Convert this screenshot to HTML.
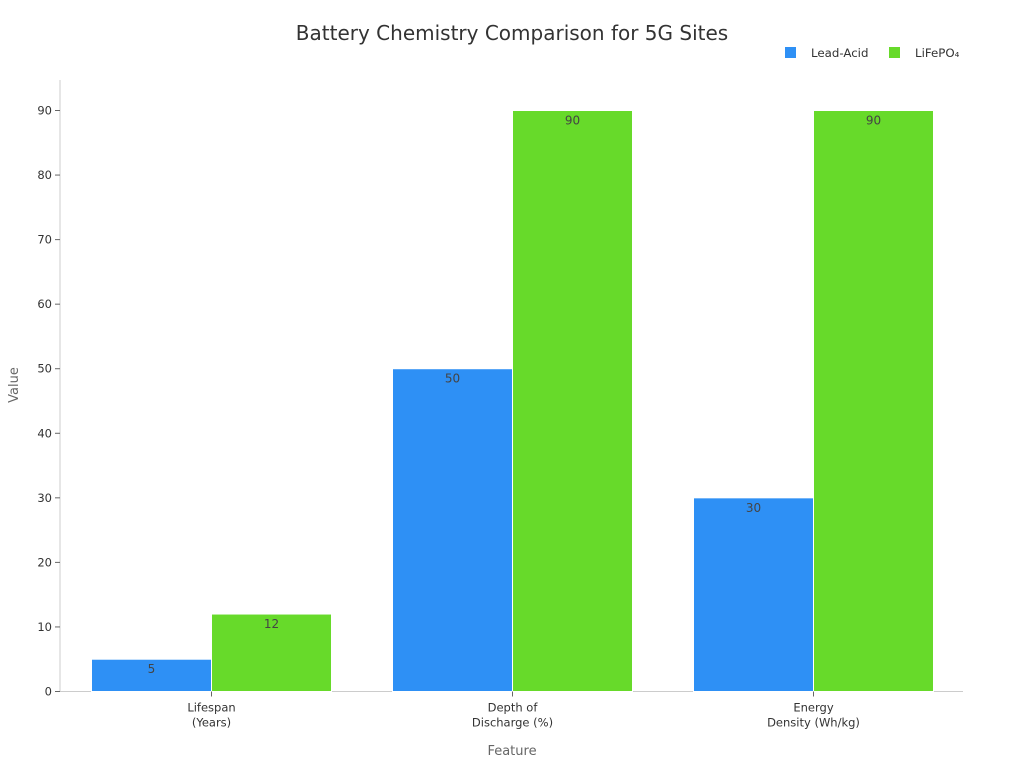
<!DOCTYPE html>
<html><head><meta charset="utf-8"><style>
body{margin:0;background:#fff}
svg{font-family:"DejaVu Sans","Liberation Sans",sans-serif}
</style></head><body>
<svg id="c" width="1024" height="768" xmlns="http://www.w3.org/2000/svg">
<text x="512" y="40" text-anchor="middle" font-size="20" fill="#333">Battery Chemistry Comparison for 5G Sites</text>
<g>
<rect x="785" y="47" width="11" height="11" fill="#2e90f5"/>
<text x="811" y="57" font-size="11.8" fill="#333">Lead-Acid</text>
<rect x="889" y="47" width="11" height="11" fill="#67da2a"/>
<text x="915" y="57" font-size="11.8" fill="#333">LiFePO₄</text>
</g>
<text transform="translate(18,385) rotate(-90)" text-anchor="middle" font-size="13" fill="#666">Value</text>
<text x="512" y="755" text-anchor="middle" font-size="13" fill="#666">Feature</text>
<g id="plot"></g>
</svg>
<script>
const categories=[["Lifespan","(Years)"],["Depth of","Discharge (%)"],["Energy","Density (Wh/kg)"]];
const leadAcid=[5,50,30];
const lifepo4=[12,90,90];
const yTicks=[0,10,20,30,40,50,60,70,80,90];
const NS="http://www.w3.org/2000/svg";
const g=document.getElementById('plot');
const x0=60,x1=963,yB=691.5,yT=110.5,yMax=90;
const y=v=>yB-(yB-yT)*v/yMax;
const band=(x1-x0)/categories.length;
const cx=i=>x0+1+band*(i+0.5);
const bw=120;
function el(t,a,txt){const e=document.createElementNS(NS,t);for(const k in a)e.setAttribute(k,a[k]);if(txt!=null)e.textContent=txt;g.appendChild(e);return e;}
let e=el('line',{x1:x0,y1:80,x2:x0,y2:yB,stroke:'#ccc'});


e=el('line',{x1:x0,y1:yB,x2:x1,y2:yB,stroke:'#ccc'});


yTicks.forEach(t=>{
 let l=el('line',{x1:x0-5,y1:y(t),x2:x0,y2:y(t),stroke:'#666'});
 
 
 let tx=el('text',{x:x0-8,y:y(t)+4,'text-anchor':'end','font-size':11.5,fill:'#333'},t);
 
 
});
categories.forEach((c,i)=>{
 const c0=cx(i);
 [[leadAcid,'#2e90f5',-bw,'lead-acid'],[lifepo4,'#67da2a',0,'lifepo4']].forEach(([s,col,off,nm])=>{
  const v=s[i];
  let r=el('rect',{x:c0+off,y:y(v),width:bw,height:yB-y(v),fill:col,stroke:'#fff','stroke-width':1});
  
  
  let t=el('text',{x:c0+off+bw/2,y:y(v)+14,'text-anchor':'middle','font-size':12,fill:'#444'},v);
  
  
 });
 let tk=el('line',{x1:c0,y1:yB,x2:c0,y2:yB+5,stroke:'#666'});
 
 
 c.forEach((ln,j)=>{
  let t=el('text',{x:c0,y:yB+20+j*15,'text-anchor':'middle','font-size':11.5,fill:'#333'},ln);
  
  
 });
});
</script>
</body></html>
